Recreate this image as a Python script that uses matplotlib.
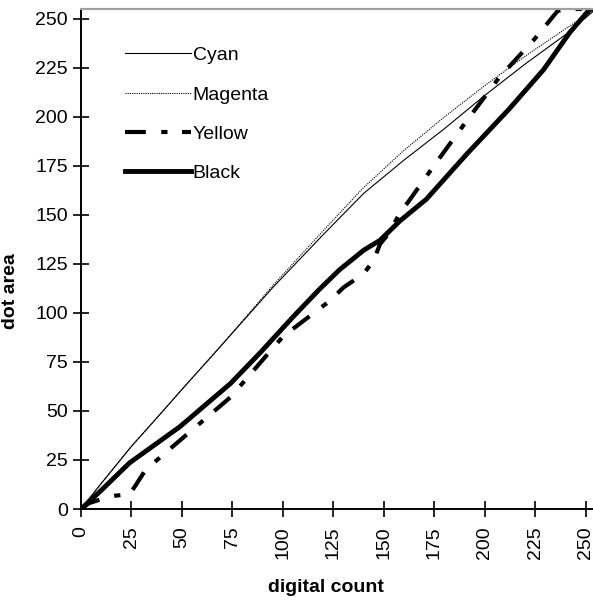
import matplotlib
matplotlib.use("Agg")
import matplotlib.pyplot as plt
from matplotlib import font_manager

# digital count -> dot area
cyan_x = [0, 10, 25, 38, 50, 70, 95, 120, 140, 160, 180, 200, 220, 240, 255]
cyan_y = [0, 13, 32, 47, 61, 84, 113, 140, 161, 178, 194, 211, 227, 242, 255]

magenta_x = [0, 10, 25, 38, 50, 70, 95, 120, 140, 160, 180, 200, 220, 240, 255]
magenta_y = [0, 13, 32, 47, 61, 84, 114, 142, 164, 183, 200, 216, 231, 245, 255]

yellow_x = [0, 4, 10, 14, 24, 27, 32, 49, 74, 100, 123, 130, 140, 145, 148,
            152, 158, 163, 174, 191, 207, 224, 236, 240, 255]
yellow_y = [0, 3, 5, 6.5, 7.5, 12, 20, 35, 57, 88, 106, 113, 120, 127, 135,
            140, 151, 158, 174, 198, 220, 239, 254, 255, 255]

black_x = [0, 10, 24, 49, 74, 89, 105, 118, 128, 140, 148, 158, 171, 191,
           212, 229, 242, 252, 255]
black_y = [0, 9.5, 23.5, 42, 64, 80, 98, 112, 122, 132, 137, 147, 158, 181,
           204, 224, 243, 255, 255]

ticks = [0, 25, 50, 75, 100, 125, 150, 175, 200, 225, 250]

installed = {f.name for f in font_manager.fontManager.ttflist}
narrow = "Liberation Sans Narrow" if "Liberation Sans Narrow" in installed else "Liberation Sans"
plt.rcParams['font.family'] = ['Liberation Sans', 'DejaVu Sans']

fig = plt.figure(figsize=(5.93, 6.06), dpi=100)
ax = fig.add_axes([81 / 593, 97 / 606, 515 / 593, 500 / 606])

ax.plot(cyan_x, cyan_y, color='black', lw=0.8, label='Cyan')
ax.plot(magenta_x, magenta_y, color='black', lw=0.8, ls=(0, (1, 1)), label='Magenta')
ax.plot(yellow_x, yellow_y, color='black', lw=3, ls=(0, (5, 3.7, 1.5, 3.5)), label='Yellow')
ax.plot(black_x, black_y, color='black', lw=3.5, label='Black')

ax.set_xlim(0, 255)
ax.set_ylim(0, 255)
ax.set_xticks(ticks)
ax.set_yticks(ticks)
ax.set_xticklabels([str(t) for t in ticks], rotation=90)
ax.tick_params(direction='inout', length=11, width=1.2, labelsize=14, color='black')
ax.tick_params(axis='x', pad=7)
ax.tick_params(axis='y', pad=4)

ax.spines['right'].set_visible(False)
ax.spines['top'].set_color('#a0a0a0')
ax.spines['top'].set_linewidth(1.6)
ax.spines['left'].set_linewidth(1.4)
ax.spines['bottom'].set_linewidth(1.4)

ax.set_xlabel('digital count', fontsize=14, fontweight='bold', family=[narrow, 'DejaVu Sans'])
ax.set_ylabel('dot area', fontsize=14, fontweight='bold', family=[narrow, 'DejaVu Sans'])
ax.xaxis.set_label_coords(0.475, -0.14)
ax.yaxis.set_label_coords(-0.12, 0.436)

ax.legend(loc='upper left', bbox_to_anchor=(0.085, 0.925), frameon=False,
          borderpad=0, borderaxespad=0, handlelength=3.4, handletextpad=0.1,
          labelspacing=1.12, prop={'family': [narrow, 'DejaVu Sans'], 'size': 14})

fig.savefig('out.png', dpi=100)
